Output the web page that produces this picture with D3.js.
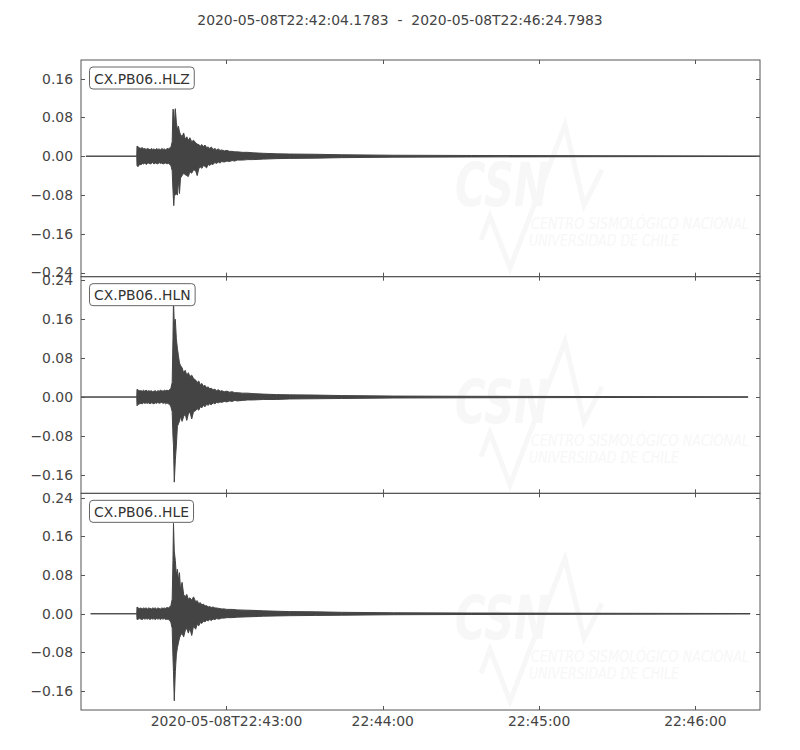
<!DOCTYPE html>
<html><head><meta charset="utf-8">
<script src="https://cdn.jsdelivr.net/npm/d3@7"></script>
<style>body{margin:0;background:#fff}svg{display:block}text{font-family:"DejaVu Sans",sans-serif}</style>
</head><body><svg id="c" width="800" height="750"></svg>
<script>
// ---------------- data ----------------
const titleText = "2020-05-08T22:42:04.1783  -  2020-05-08T22:46:24.7983";
const traceIds = ["CX.PB06..HLZ", "CX.PB06..HLN", "CX.PB06..HLE"];
const startMs = Date.UTC(2020, 4, 8, 22, 42, 4) + 178.3;
const endMs = Date.UTC(2020, 4, 8, 22, 46, 24) + 798.3;
const xTickTimes = ["2020-05-08T22:43:00Z", "2020-05-08T22:44:00Z", "2020-05-08T22:45:00Z", "2020-05-08T22:46:00Z"];
const xTickLabels = ["2020-05-08T22:43:00", "22:44:00", "22:45:00", "22:46:00"];
const yDomains = [[-0.2485, 0.1985], [-0.198, 0.2475], [-0.199, 0.249]];
const yTicksZ = [0.16, 0.08, 0.00, -0.08, -0.16, -0.24];
const yTicksN = [0.24, 0.16, 0.08, 0.00, -0.08, -0.16];
const yTicksE = [0.24, 0.16, 0.08, 0.00, -0.08, -0.16];

// envelopes: [seconds after start, max, min]
const hlzEnv = [
  [1.9,0,0],[21.4,0,0],[21.5,0.021,-0.020],[22,0.019,-0.021],[22.5,0.017,-0.016],[23,0.016,-0.018],
  [23.5,0.018,-0.015],[24,0.015,-0.016],[24.5,0.016,-0.014],[25,0.014,-0.017],[25.5,0.016,-0.015],
  [26,0.015,-0.014],[26.5,0.013,-0.016],[27,0.016,-0.015],[27.5,0.014,-0.013],[28,0.015,-0.016],
  [28.5,0.013,-0.014],[29,0.016,-0.015],[29.5,0.014,-0.016],[30,0.015,-0.013],[30.5,0.013,-0.015],
  [31,0.016,-0.014],[31.5,0.014,-0.016],[32,0.015,-0.015],[32.5,0.013,-0.014],[33,0.016,-0.016],
  [33.5,0.015,-0.014],[34,0.017,-0.017],[34.5,0.018,-0.019],[35,0.030,-0.030],[35.3,0.097,-0.070],
  [35.6,0.095,-0.102],[35.9,0.060,-0.075],[36.2,0.098,-0.080],[36.6,0.070,-0.078],[37.0,0.055,-0.080],
  [37.4,0.062,-0.050],[37.8,0.050,-0.077],[38.2,0.045,-0.045],[38.8,0.040,-0.040],[39.4,0.048,-0.035],
  [40.0,0.035,-0.038],[40.6,0.040,-0.040],[41.2,0.033,-0.042],[41.8,0.038,-0.032],[42.5,0.030,-0.035],
  [43.2,0.033,-0.028],[44.0,0.028,-0.030],[44.6,0.025,-0.040],[45.2,0.024,-0.026],[45.8,0.021,-0.022],
  [46.4,0.024,-0.025],[47,0.020,-0.019],[47.6,0.023,-0.021],[48.2,0.018,-0.024],[48.8,0.019,-0.017],
  [49.4,0.016,-0.019],[50,0.019,-0.016],[50.7,0.014,-0.017],[51.4,0.016,-0.013],[52,0.013,-0.015],
  [52.7,0.015,-0.012],[53.4,0.012,-0.014],[54,0.013,-0.011],[55,0.011,-0.012],[56,0.012,-0.010],
  [57,0.010,-0.011],[58,0.010,-0.009],[59,0.009,-0.010],[60,0.009,-0.008],[62,0.008,-0.008],
  [64,0.008,-0.007],[66,0.007,-0.007],[70,0.006,-0.006],[75,0.005,-0.005],
  [80,0.0045,-0.0045],[90,0.004,-0.004],[100,0.003,-0.003],[120,0.002,-0.002],[150,0.0015,-0.0015],
  [200,0.001,-0.001],[260.62,0.0005,-0.0005]
];
const hlnEnv = [
  [0,0,0],[21.4,0,0],[21.5,0.016,-0.018],[22,0.014,-0.015],[22.5,0.013,-0.014],[23,0.013,-0.013],
  [23.5,0.012,-0.014],[24,0.014,-0.012],[24.5,0.012,-0.013],[25,0.014,-0.012],[25.5,0.012,-0.013],
  [26,0.013,-0.012],[26.5,0.012,-0.014],[27,0.013,-0.012],[27.5,0.011,-0.013],[28,0.012,-0.014],
  [28.5,0.013,-0.012],[29,0.011,-0.013],[29.5,0.013,-0.011],[30,0.012,-0.013],[30.5,0.014,-0.012],
  [31,0.013,-0.011],[31.5,0.012,-0.013],[32,0.014,-0.012],[32.5,0.013,-0.014],[33,0.014,-0.012],
  [33.5,0.013,-0.014],[34,0.015,-0.015],[34.5,0.018,-0.020],[35,0.030,-0.030],[35.3,0.120,-0.080],
  [35.5,0.200,-0.100],[35.8,0.150,-0.175],[36.2,0.160,-0.130],[36.6,0.120,-0.100],[37.0,0.100,-0.060],
  [37.4,0.085,-0.055],[37.8,0.070,-0.050],[38.2,0.065,-0.040],[38.8,0.060,-0.050],[39.4,0.050,-0.040],
  [40.0,0.055,-0.035],[40.6,0.045,-0.048],[41.2,0.050,-0.035],[41.8,0.042,-0.030],[42.5,0.045,-0.045],
  [43.2,0.038,-0.030],[44.0,0.035,-0.028],[44.6,0.030,-0.024],[45.2,0.033,-0.027],[45.8,0.025,-0.020],
  [46.4,0.028,-0.022],[47,0.022,-0.017],[47.6,0.024,-0.020],[48.2,0.019,-0.015],[48.8,0.021,-0.017],
  [49.4,0.017,-0.014],[50,0.018,-0.016],[50.7,0.015,-0.012],[51.4,0.016,-0.014],[52,0.013,-0.011],
  [52.7,0.015,-0.012],[53.4,0.012,-0.010],[54,0.013,-0.011],[55,0.011,-0.009],[56,0.012,-0.010],
  [57,0.010,-0.008],[58,0.011,-0.009],[59,0.009,-0.007],[60,0.009,-0.008],[62,0.008,-0.007],
  [64,0.008,-0.006],[66,0.007,-0.006],
  [70,0.006,-0.005],[75,0.005,-0.005],[80,0.0045,-0.004],[90,0.004,-0.0035],[100,0.003,-0.003],
  [120,0.002,-0.002],[150,0.0015,-0.0015],[200,0.001,-0.001],[256.0,0.0005,-0.0005]
];
const hleEnv = [
  [3.7,0,0],[21.4,0,0],[21.5,0.014,-0.012],[22,0.012,-0.011],[22.5,0.011,-0.010],[23,0.012,-0.011],
  [23.5,0.010,-0.012],[24,0.012,-0.010],[24.5,0.011,-0.011],[25,0.012,-0.010],[25.5,0.010,-0.011],
  [26,0.012,-0.010],[26.5,0.011,-0.012],[27,0.010,-0.010],[27.5,0.012,-0.011],[28,0.011,-0.010],
  [28.5,0.012,-0.012],[29,0.010,-0.010],[29.5,0.012,-0.011],[30,0.011,-0.010],[30.5,0.010,-0.012],
  [31,0.012,-0.010],[31.5,0.011,-0.011],[32,0.012,-0.010],[32.5,0.011,-0.012],[33,0.013,-0.011],
  [33.5,0.012,-0.012],[34,0.014,-0.013],[34.5,0.017,-0.018],[35,0.030,-0.030],[35.3,0.110,-0.090],
  [35.5,0.187,-0.120],[35.8,0.130,-0.180],[36.2,0.110,-0.120],[36.6,0.080,-0.085],[37.0,0.092,-0.070],
  [37.4,0.070,-0.060],[37.8,0.085,-0.050],[38.2,0.050,-0.045],[38.8,0.065,-0.040],[39.4,0.040,-0.048],
  [40.0,0.035,-0.035],[40.6,0.040,-0.030],[41.2,0.030,-0.040],[41.8,0.033,-0.030],[42.5,0.028,-0.045],
  [43.2,0.035,-0.025],[44.0,0.025,-0.032],[44.6,0.027,-0.022],[45.2,0.021,-0.025],[45.8,0.023,-0.018],
  [46.4,0.018,-0.020],[47,0.020,-0.015],[47.6,0.016,-0.017],[48.2,0.017,-0.013],[48.8,0.014,-0.015],
  [49.4,0.015,-0.012],[50,0.013,-0.014],[50.7,0.014,-0.011],[51.4,0.012,-0.012],[52,0.012,-0.010],
  [53,0.011,-0.011],[54,0.010,-0.009],[55,0.010,-0.009],[56,0.009,-0.008],[58,0.009,-0.008],
  [60,0.008,-0.007],[63,0.0075,-0.0065],[66,0.007,-0.006],[70,0.006,-0.005],[80,0.0045,-0.004],[90,0.004,-0.0035],
  [100,0.003,-0.003],[120,0.002,-0.002],[150,0.0015,-0.0015],[200,0.001,-0.001],[256.8,0.0005,-0.0005]
];
const envelopes = [hlzEnv, hlnEnv, hleEnv];
const panelTicks = [yTicksZ, yTicksN, yTicksE];

// ---------------- drawing ----------------
const svg = d3.select("#c");
const L = 81, R = 760, T = 60, B = 710;
const nP = 3, ph = (B - T) / nP;
const traceColor = "#444", frameColor = "#555", textColor = "#444";
const wmColor = "#f7f7f7";
const fs = "13.9px";

const x = d3.scaleUtc().domain([new Date(startMs), new Date(endMs)]).range([L, R]);
const tx = s => new Date(startMs + s * 1000);
const fmt = v => d3.format(".2f")(v).replace("-", "\u2212");

svg.append("text").attr("x", 400).attr("y", 25).attr("text-anchor", "middle")
  .style("white-space", "pre").attr("font-size", fs).attr("fill", textColor).text(titleText);

const defs = svg.append("defs");

for (let i = 0; i < nP; i++) {
  const top = T + i * ph, bot = top + ph;
  const y = d3.scaleLinear().domain(yDomains[i]).range([bot, top]);
  const g = svg.append("g");
  defs.append("clipPath").attr("id", "clip" + i).append("rect")
    .attr("x", L).attr("y", top).attr("width", R - L).attr("height", ph);
  const inner = g.append("g").attr("clip-path", `url(#clip${i})`);

  // watermark
  const wm = inner.append("g").attr("transform", `translate(${L},${top})`).attr("fill", wmColor);
  wm.append("path").attr("d", "M400,180 L409,156 L429,208 L484,65 L503,145 L521,110")
    .attr("fill", "none").attr("stroke", wmColor).attr("stroke-width", 5);
  wm.append("text").attr("x", 374).attr("y", 146).attr("font-size", 60).attr("font-weight", "bold")
    .attr("font-style", "italic").attr("textLength", 94).attr("lengthAdjust", "spacingAndGlyphs").text("CSN");
  wm.append("text").attr("x", 450).attr("y", 169).attr("font-size", 15).attr("font-style", "italic")
    .attr("textLength", 218).attr("lengthAdjust", "spacingAndGlyphs").text("CENTRO SISMOLÓGICO NACIONAL");
  wm.append("text").attr("x", 448).attr("y", 186).attr("font-size", 15).attr("font-style", "italic")
    .attr("textLength", 150).attr("lengthAdjust", "spacingAndGlyphs").text("UNIVERSIDAD DE CHILE");

  // trace
  const area = d3.area().x(d => x(tx(d[0]))).y0(d => y(d[2])).y1(d => y(d[1]));
  inner.append("path").datum(envelopes[i]).attr("d", area)
    .attr("fill", traceColor).attr("stroke", traceColor).attr("stroke-width", 1);

  // frame
  g.append("rect").attr("x", L).attr("y", top).attr("width", R - L).attr("height", ph)
    .attr("fill", "none").attr("stroke", frameColor).attr("stroke-width", 1);

  // y ticks
  panelTicks[i].forEach(v => {
    const yy = Math.round(y(v)) + 0.5;
    g.append("line").attr("x1", L).attr("x2", L + 4).attr("y1", yy).attr("y2", yy).attr("stroke", frameColor);
    g.append("line").attr("x1", R - 4).attr("x2", R).attr("y1", yy).attr("y2", yy).attr("stroke", frameColor);
    g.append("text").attr("x", L - 8).attr("y", y(v)).attr("dy", "0.35em").attr("text-anchor", "end")
      .attr("font-size", fs).attr("fill", textColor).text(fmt(v));
  });
  // x ticks
  xTickTimes.forEach((t, k) => {
    const xx = Math.round(x(new Date(t))) + 0.5;
    g.append("line").attr("x1", xx).attr("x2", xx).attr("y1", bot).attr("y2", bot - 4).attr("stroke", frameColor);
    g.append("line").attr("x1", xx).attr("x2", xx).attr("y1", top).attr("y2", top + 4).attr("stroke", frameColor);
    if (i === nP - 1) {
      g.append("text").attr("x", x(new Date(t))).attr("y", bot + 16).attr("text-anchor", "middle")
        .attr("font-size", fs).attr("fill", textColor).text(xTickLabels[k]);
    }
  });

  // label box
  const lab = g.append("g");
  const txt = lab.append("text").attr("x", L + 13).attr("y", top + 23.5).attr("font-size", fs)
    .attr("fill", "#333").text(traceIds[i]);
  const w = txt.node().getComputedTextLength();
  lab.insert("rect", "text").attr("x", L + 8.5).attr("y", top + 7).attr("width", w + 9).attr("height", 22)
    .attr("rx", 3.5).attr("fill", "#fff").attr("stroke", "#666").attr("stroke-width", 1);
}
</script></body></html>
